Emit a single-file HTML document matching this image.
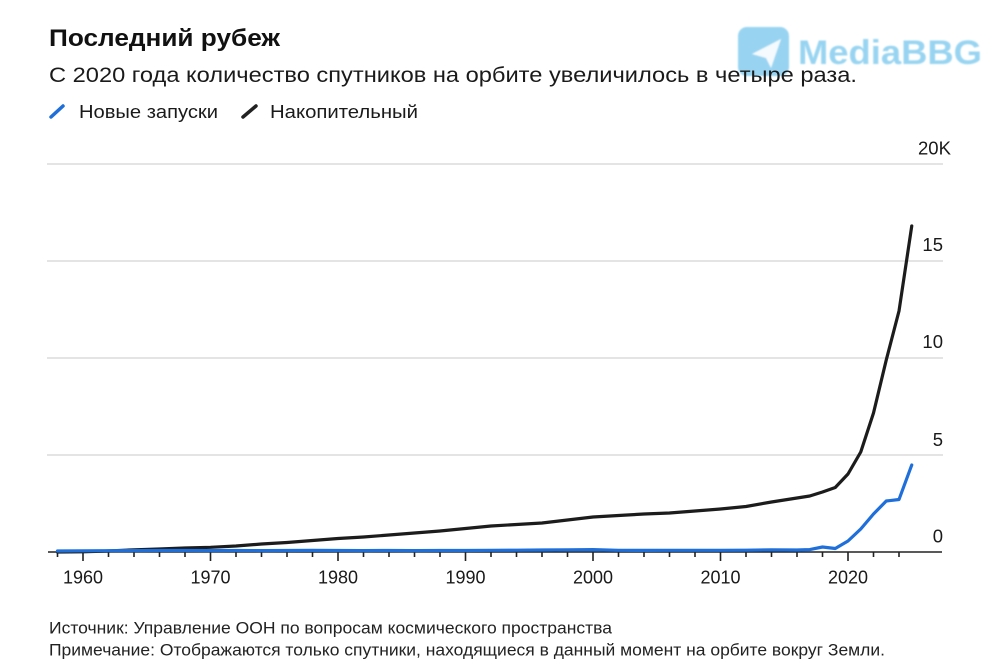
<!DOCTYPE html>
<html>
<head>
<meta charset="utf-8">
<style>
html,body{margin:0;padding:0;background:#fff;}
svg{display:block;}
text{font-family:"Liberation Sans","DejaVu Sans",sans-serif;}
</style>
</head>
<body>
<svg width="1000" height="668" viewBox="0 0 1000 668" xmlns="http://www.w3.org/2000/svg">
<defs>
  <filter id="bl" x="-10%" y="-10%" width="120%" height="120%">
    <feGaussianBlur stdDeviation="0.9"/>
  </filter>
</defs>
<rect x="0" y="0" width="1000" height="668" fill="#fff"/>

<!-- watermark -->
<g opacity="0.8" filter="url(#bl)">
  <rect x="738" y="27" width="51" height="49" rx="9" fill="#7fcaee"/>
  <polygon points="752,54 781,39 771,68 766,58" fill="#ffffff" opacity="0.9"/>
  <text x="798" y="64" font-size="34" font-weight="bold" fill="#7fcaee" textLength="184" lengthAdjust="spacingAndGlyphs">MediaBBG</text>
</g>

<!-- title / subtitle -->
<text x="49" y="46" font-size="24.5" font-weight="bold" fill="#111" textLength="231" lengthAdjust="spacingAndGlyphs">Последний рубеж</text>
<text x="49" y="82" font-size="21" fill="#1a1a1a" textLength="808" lengthAdjust="spacingAndGlyphs">С 2020 года количество спутников на орбите увеличилось в четыре раза.</text>

<!-- legend -->
<line x1="51" y1="117" x2="63" y2="106" stroke="#1f6fdb" stroke-width="3.5" stroke-linecap="round"/>
<text x="79" y="118" font-size="18.5" fill="#1a1a1a" textLength="139" lengthAdjust="spacingAndGlyphs">Новые запуски</text>
<line x1="243" y1="117" x2="256" y2="106" stroke="#222" stroke-width="3.5" stroke-linecap="round"/>
<text x="270" y="118" font-size="18.5" fill="#1a1a1a" textLength="148" lengthAdjust="spacingAndGlyphs">Накопительный</text>

<!-- gridlines -->
<g stroke="#d4d4d4" stroke-width="1.2">
  <line x1="47" y1="164" x2="943" y2="164"/>
  <line x1="47" y1="261" x2="943" y2="261"/>
  <line x1="47" y1="358" x2="943" y2="358"/>
  <line x1="47" y1="455" x2="943" y2="455"/>
</g>

<!-- y labels -->
<g font-size="18.5" fill="#1a1a1a">
  <text x="918" y="154.5">20K</text>
  <text x="943" y="251" text-anchor="end">15</text>
  <text x="943" y="348" text-anchor="end">10</text>
  <text x="943" y="446" text-anchor="end">5</text>
  <text x="943" y="542.5" text-anchor="end">0</text>
</g>

<!-- axis -->
<line x1="48" y1="552" x2="942" y2="552" stroke="#222" stroke-width="1.6"/>
<g stroke="#222" stroke-width="1.6">
  <line x1="57.5" y1="552" x2="57.5" y2="557"/>
  <line x1="83" y1="552" x2="83" y2="561"/>
  <line x1="108.5" y1="552" x2="108.5" y2="557"/>
  <line x1="134" y1="552" x2="134" y2="557"/>
  <line x1="159.5" y1="552" x2="159.5" y2="557"/>
  <line x1="185" y1="552" x2="185" y2="557"/>
  <line x1="210.5" y1="552" x2="210.5" y2="561"/>
  <line x1="236" y1="552" x2="236" y2="557"/>
  <line x1="261.5" y1="552" x2="261.5" y2="557"/>
  <line x1="287" y1="552" x2="287" y2="557"/>
  <line x1="312.5" y1="552" x2="312.5" y2="557"/>
  <line x1="338" y1="552" x2="338" y2="561"/>
  <line x1="363.5" y1="552" x2="363.5" y2="557"/>
  <line x1="389" y1="552" x2="389" y2="557"/>
  <line x1="414.5" y1="552" x2="414.5" y2="557"/>
  <line x1="440" y1="552" x2="440" y2="557"/>
  <line x1="465.5" y1="552" x2="465.5" y2="561"/>
  <line x1="491" y1="552" x2="491" y2="557"/>
  <line x1="516.5" y1="552" x2="516.5" y2="557"/>
  <line x1="542" y1="552" x2="542" y2="557"/>
  <line x1="567.5" y1="552" x2="567.5" y2="557"/>
  <line x1="593" y1="552" x2="593" y2="561"/>
  <line x1="618.5" y1="552" x2="618.5" y2="557"/>
  <line x1="644" y1="552" x2="644" y2="557"/>
  <line x1="669.5" y1="552" x2="669.5" y2="557"/>
  <line x1="695" y1="552" x2="695" y2="557"/>
  <line x1="720.5" y1="552" x2="720.5" y2="561"/>
  <line x1="746" y1="552" x2="746" y2="557"/>
  <line x1="771.5" y1="552" x2="771.5" y2="557"/>
  <line x1="797" y1="552" x2="797" y2="557"/>
  <line x1="822.5" y1="552" x2="822.5" y2="557"/>
  <line x1="848" y1="552" x2="848" y2="561"/>
  <line x1="873.5" y1="552" x2="873.5" y2="557"/>
  <line x1="899" y1="552" x2="899" y2="557"/>
</g>

<!-- x labels -->
<g font-size="18" fill="#1a1a1a" text-anchor="middle">
  <text x="83" y="583.5">1960</text>
  <text x="210.5" y="583.5">1970</text>
  <text x="338" y="583.5">1980</text>
  <text x="465.5" y="583.5">1990</text>
  <text x="593" y="583.5">2000</text>
  <text x="720.5" y="583.5">2010</text>
  <text x="848" y="583.5">2020</text>
</g>

<!-- cumulative (black) -->
<polyline fill="none" stroke="#1c1c1c" stroke-width="3.2" stroke-linejoin="round" stroke-linecap="round"
 points="57.5,552 83,551.8 108.5,551 134,549.8 159.5,549 185,548 210.5,547.3 236,546 261.5,544 287,542.5 312.5,540.5 338,538.5 363.5,537 389,535 414.5,533 440,531 465.5,528.5 491,526 516.5,524.5 542,523 567.5,520 593,517 618.5,515.5 644,514 669.5,513 695,511 720.5,509 746,506.5 771.5,502 797,498 809.75,496 822.5,492 835.25,487.5 848,474 860.75,452 873.5,413 886.25,360 899,311 911.75,226"/>

<!-- new launches (blue) -->
<polyline fill="none" stroke="#1f6fdb" stroke-width="3.2" stroke-linejoin="round" stroke-linecap="round"
 points="57.5,551 83,550.8 108.5,550.7 134,550.6 159.5,550.5 185,550.5 210.5,550.6 236,550.5 261.5,550.6 287,550.5 312.5,550.4 338,550.5 363.5,550.6 389,550.5 414.5,550.6 440,550.5 465.5,550.5 491,550.3 516.5,550.2 542,550 567.5,549.8 593,549.6 618.5,550.3 644,550.4 669.5,550.3 695,550.3 720.5,550.3 746,550.2 771.5,549.8 797,550 809.75,549.6 822.5,547 835.25,548.5 848,541 860.75,529 873.5,514 886.25,501 899,499.5 911.75,465"/>

<!-- footer -->
<text x="49" y="633.5" font-size="16.5" fill="#222" textLength="563" lengthAdjust="spacingAndGlyphs">Источник: Управление ООН по вопросам космического пространства</text>
<text x="49" y="655.5" font-size="16.5" fill="#222" textLength="836" lengthAdjust="spacingAndGlyphs">Примечание: Отображаются только спутники, находящиеся в данный момент на орбите вокруг Земли.</text>
</svg>
</body>
</html>
